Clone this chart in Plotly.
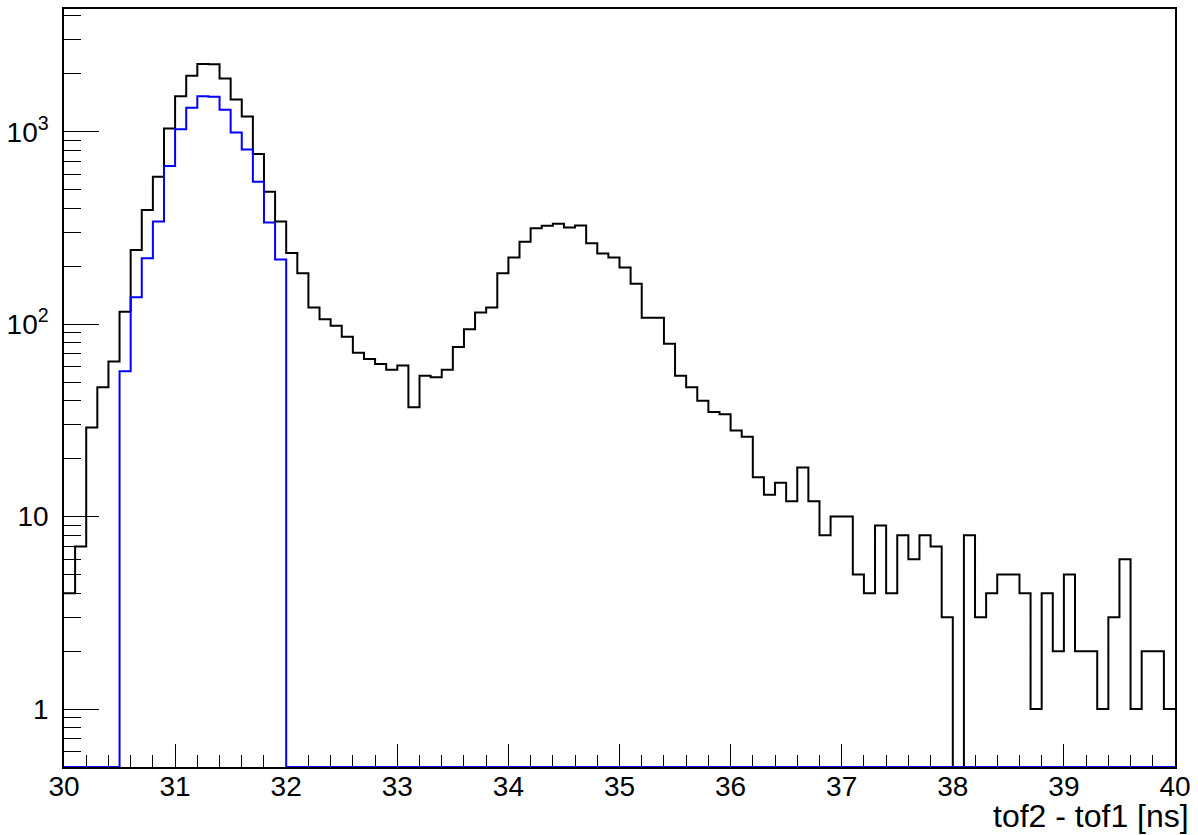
import numpy as np
import plotly.graph_objects as go

# Histogram binning: 100 bins of 0.1 ns between 30 and 40 ns
bin_lo, bin_hi, n_bins = 30.0, 40.0, 100
edges = np.round(np.linspace(bin_lo, bin_hi, n_bins + 1), 3)

# All events: tof2 - tof1 counts per bin
counts_all = [
    4, 7, 29, 47, 64, 116, 243, 392, 583, 1040,
    1530, 1950, 2250, 2240, 1890, 1470, 1200, 765, 488, 341,
    234, 184, 122, 106, 98, 86, 71, 66, 62, 58,
    61, 37, 54, 53, 58, 76, 94, 115, 122, 184,
    222, 268, 315, 325, 332, 318, 326, 263, 233, 222,
    197, 162, 108, 108, 79, 54, 47, 40, 35, 34,
    28, 26, 16, 13, 15, 12, 18, 12, 8, 10,
    10, 5, 4, 9, 4, 8, 6, 8, 7, 3,
    0, 8, 3, 4, 5, 5, 4, 1, 4, 2,
    5, 2, 2, 1, 3, 6, 1, 2, 2, 1,
]

# Selected events (non-zero only between 30.5 and 32.0 ns)
counts_sel = [0] * 5 + [
    57, 138, 220, 341, 663, 1030, 1330, 1530, 1520, 1300,
    990, 809, 550, 337, 217,
] + [0] * 80

x_ticks = list(range(30, 41))
y_ticks = [1, 10, 100, 1000]
y_tick_text = ["1", "10", "10<sup>2</sup>", "10<sup>3</sup>"]
x_title = "tof2 - tof1 [ns]"

y_min, y_max = 0.5, 4340.0


def step_points(counts):
    """Left bin edges plus the closing edge, for an 'hv' step outline.
    Empty bins are drawn along the bottom of the log axis."""
    vals = np.asarray(counts, dtype=float)
    vals = np.where(vals > 0, vals, y_min)
    return edges, np.append(vals, vals[-1])


fig = go.Figure()
for counts, color in [(counts_all, "black"), (counts_sel, "#0000ff")]:
    xs, ys = step_points(counts)
    fig.add_trace(go.Scatter(
        x=xs, y=ys, mode="lines", line_shape="hv",
        line=dict(color=color, width=2), showlegend=False, hoverinfo="skip",
    ))

# minor tick positions on the log axis (2..9 per decade inside the range)
y_minor = []
for dec in range(-1, 4):
    for m in range(2, 10):
        v = m * 10.0 ** dec
        if y_min <= v <= y_max:
            y_minor.append(v)

family = "Liberation Sans, Arial, Helvetica, sans-serif"
font = dict(family=family, size=28, color="black")
title_font = dict(family=family, size=32, color="black")

fig.update_layout(
    width=1198, height=835,
    margin=dict(l=64, r=20, t=7, b=68),
    paper_bgcolor="white", plot_bgcolor="white",
    font=font,
    xaxis=dict(
        range=[bin_lo, bin_hi], showgrid=False, zeroline=False,
        showline=True, linecolor="black", linewidth=1.5, mirror=True,
        ticks="inside", ticklen=23, tickwidth=1, tickcolor="black",
        tickvals=x_ticks, ticktext=[str(v) for v in x_ticks],
        tickfont=font, ticklabelstandoff=-6,
        minor=dict(ticks="inside", ticklen=12, tickwidth=1, tickcolor="black",
                   tick0=30, dtick=0.2, showgrid=False),
        layer="below traces",
    ),
    yaxis=dict(
        type="log", range=[np.log10(y_min), np.log10(y_max)],
        showgrid=False, zeroline=False,
        showline=True, linecolor="black", linewidth=1.5, mirror=True,
        ticks="inside", ticklen=35, tickwidth=1, tickcolor="black",
        tickvals=y_ticks, ticktext=y_tick_text, tickfont=font,
        ticklabelstandoff=8,
        minor=dict(ticks="inside", ticklen=17, tickwidth=1, tickcolor="black",
                   tickvals=y_minor, showgrid=False),
        layer="below traces",
    ),
)

fig.add_annotation(
    text=x_title, xref="paper", yref="paper", x=1.0145, y=0,
    xanchor="right", yanchor="top", yshift=-29, showarrow=False,
    font=title_font,
)

fig.write_html("out.html")
